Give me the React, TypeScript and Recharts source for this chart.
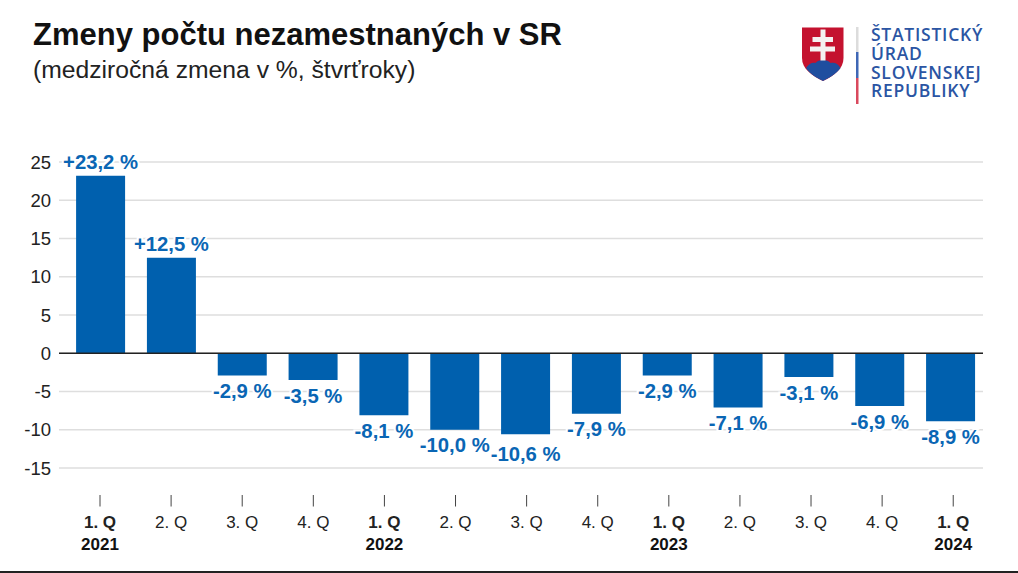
import React from "react";
import { BarChart, Bar, XAxis, YAxis, CartesianGrid, ReferenceLine, LabelList } from "recharts";

const quarters = ["1. Q", "2. Q", "3. Q", "4. Q", "1. Q", "2. Q", "3. Q", "4. Q", "1. Q", "2. Q", "3. Q", "4. Q", "1. Q"];
const years = ["2021", "", "", "", "2022", "", "", "", "2023", "", "", "", "2024"];
const changes = [23.2, 12.5, -2.9, -3.5, -8.1, -10.0, -10.6, -7.9, -2.9, -7.1, -3.1, -6.9, -8.9];
const yTicks = [-15, -10, -5, 0, 5, 10, 15, 20, 25];
const logoLines = ["ŠTATISTICKÝ", "ÚRAD", "SLOVENSKEJ", "REPUBLIKY"];

const rows = changes.map((v, i) => ({ idx: i, value: v, q: quarters[i], year: years[i] }));
const FONT = '"Liberation Sans", Arial, sans-serif';
const BLUE = "#0060ae";
const LABEL = "#0a66b4";

const fmt = (v: number) => (v > 0 ? "+" : "") + v.toFixed(1).replace(".", ",") + " %";

const QuarterTick = (props: any) => {
  const { x, payload } = props;
  const i = payload.value as number;
  const bold = years[i] !== undefined && years[i] !== "";
  const tx = x + i * 0.27 - 0.5;
  return (
    <g>
      <line x1={tx} x2={tx} y1={495} y2={506.5} stroke="#444" strokeWidth={1} />
      <text x={tx} y={527.5} textAnchor="middle" fontFamily={FONT} fontSize={17} fontWeight={bold ? 700 : 400} fill="#222">
        {quarters[i]}
      </text>
      {bold && (
        <text x={tx} y={550} textAnchor="middle" fontFamily={FONT} fontSize={17} fontWeight={700} fill="#111">
          {years[i]}
        </text>
      )}
    </g>
  );
};

const ValueLabel = (props: any) => {
  const { x, y, width, height, value } = props;
  const v = value as number;
  const cx = x + width / 2;
  const end = v >= 0 ? Math.min(y, y + height) : Math.max(y, y + height);
  const extra = v < -10.3 ? 4 : 0;
  const ty = v >= 0 ? end - 13.5 : end + 15.5 + extra;
  return (
    <text
      x={cx}
      y={ty}
      dy="0.35em"
      textAnchor="middle"
      fontFamily={FONT}
      fontSize={20.3}
      fontWeight={700}
      fill={LABEL}
      stroke="#fff"
      strokeWidth={4}
      paintOrder="stroke"
    >
      {fmt(v)}
    </text>
  );
};

const Logo = () => (
  <svg width={1018} height={573} style={{ position: "absolute", left: 0, top: 0, pointerEvents: "none" }}>
    <text x={33} y={45} fontFamily={FONT} fontWeight={700} fontSize={31} fill="#111">
      Zmeny počtu nezamestnaných v SR
    </text>
    <text x={33} y={78} fontFamily={FONT} fontSize={24.7} fill="#222">
      (medziročná zmena v %, štvrťroky)
    </text>
    <path d="M802 27.5H843.5V58C843.5 69 834 75.5 823 81C812 75.5 802 69 802 58Z" fill="#c4122f" />
    <path d="M806 68C809 63 813 62 815.5 63C818 59 828 59 830.5 63C834 62 838 63 840.5 68C836 74 829 78 823 81C817 78 810 74 806 68Z" fill="#1f4e9f" />
    <path d="M820.5 29.5H825.5V37H833V42H825.5V46.5H835V51.5H825.5V60.5H820.5V51.5H810V46.5H820.5V42H812.5V37H820.5Z" fill="#f4f1f1" />
    <rect x={856} y={27} width={2.5} height={25} fill="#dcdcdc" />
    <rect x={856} y={52} width={2.5} height={26} fill="#3f67b5" />
    <rect x={856} y={78} width={2.5} height={26} fill="#d9495d" />
    {logoLines.map((t, i) => (
      <text key={t} x={871} y={[41, 60, 79, 97][i]} fontFamily='"Open Sans", sans-serif' fontSize={17.5} fontWeight={600} fill="#2b55a3" letterSpacing={0.75}>
        {t}
      </text>
    ))}
    <rect x={0} y={571} width={1018} height={2} fill="#222" />
  </svg>
);

export default function App() {
  return (
    <div style={{ position: "absolute", left: 0, top: 0, width: 1018, height: 573, background: "#fff", overflow: "hidden" }}>
      <BarChart
        width={1018}
        height={573}
        data={rows}
        margin={{ top: 162, right: 35, bottom: 0, left: 0 }}
        style={{ position: "absolute", left: 0, top: 0 }}
      >
        <CartesianGrid horizontal vertical={false} stroke="#dedede" strokeWidth={1.4} />
        <XAxis
          dataKey="idx"
          type="number"
          domain={[-0.586, 12.459]}
          ticks={quarters.map((_, i) => i)}
          interval={0}
          allowDataOverflow
          height={105}
          axisLine={false}
          tickLine={false}
          tick={<QuarterTick />}
        />
        <YAxis
          type="number"
          domain={[-15, 25]}
          ticks={yTicks}
          interval={0}
          width={59}
          axisLine={false}
          tickLine={false}
          tickMargin={0}
          tickSize={8}
          tick={{ fontFamily: FONT, fontSize: 18.5, fill: "#222" }}
        />
        <Bar dataKey="value" fill={BLUE} barSize={49} isAnimationActive={false}>
          <LabelList dataKey="value" content={<ValueLabel />} />
        </Bar>
        <ReferenceLine y={0} stroke="#222" strokeWidth={1.5} />
      </BarChart>
      <Logo />
    </div>
  );
}
